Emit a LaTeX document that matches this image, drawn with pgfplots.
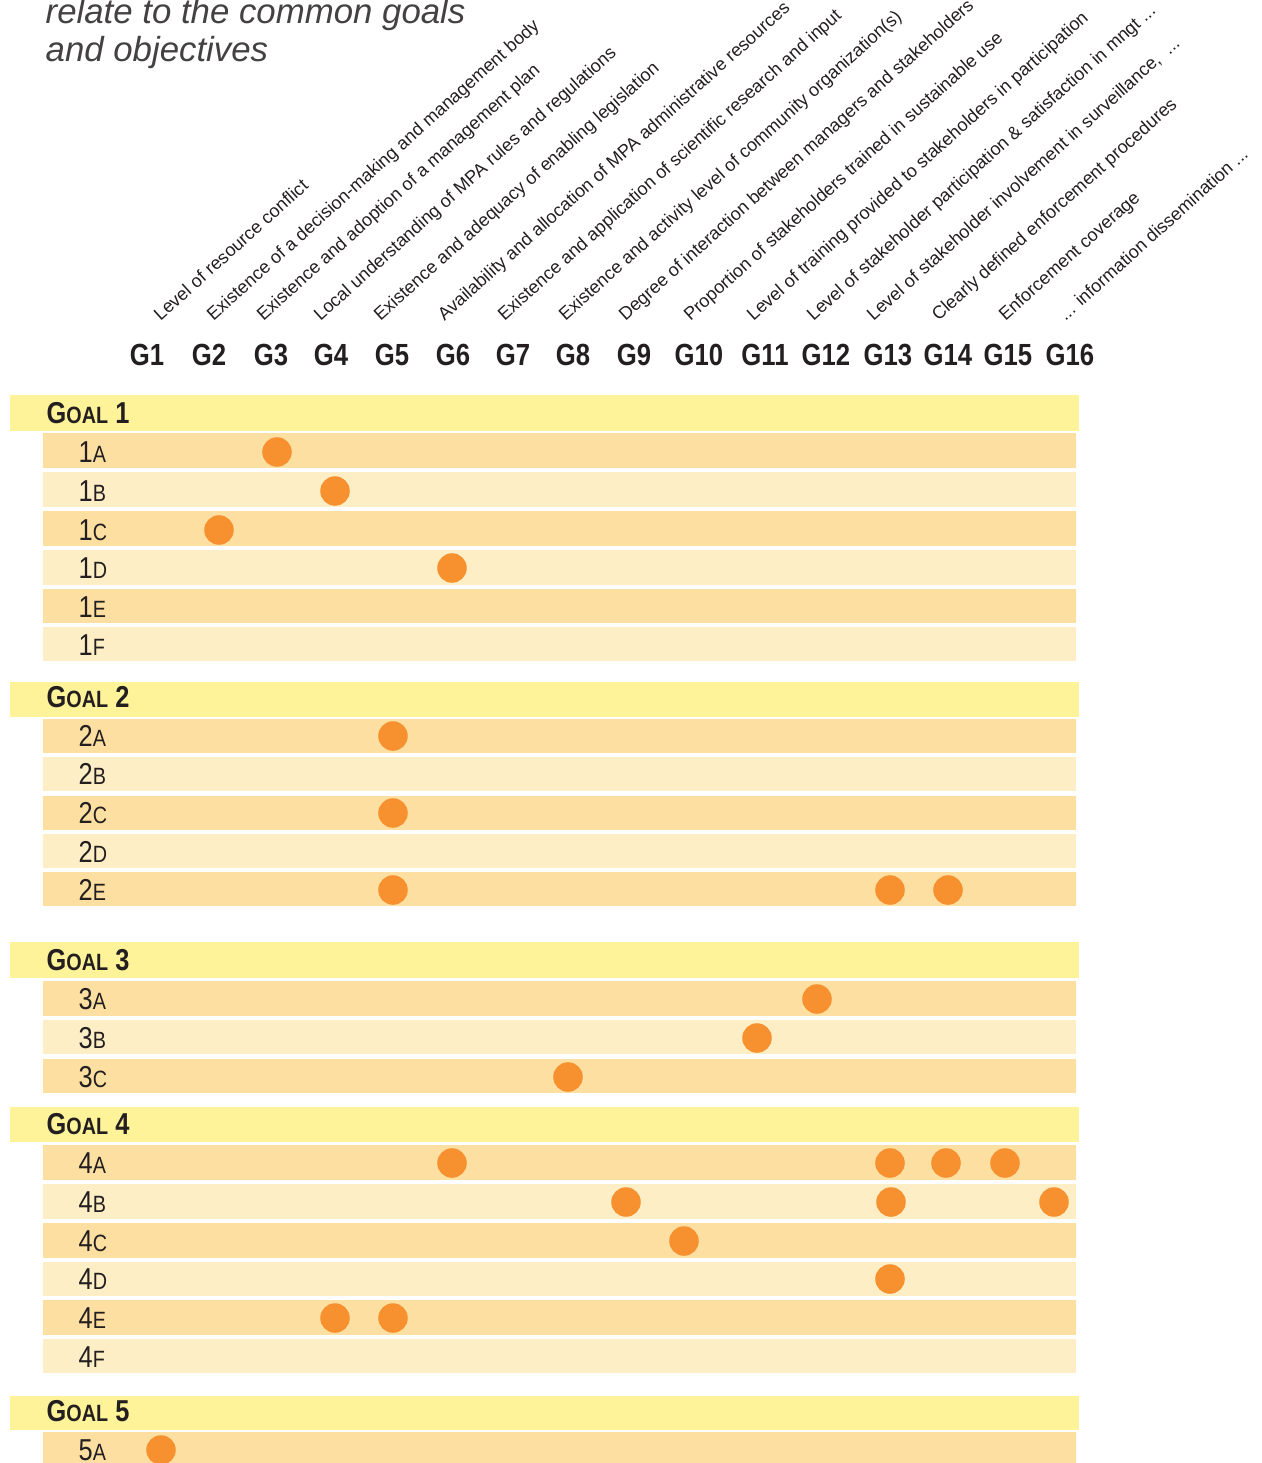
\documentclass[border=0pt]{standalone}
\usepackage{fontspec}
\setmainfont{Liberation Sans}
\newfontfamily\cond[FakeStretch=0.84]{Liberation Sans}
\usepackage{pgfplots}
\pgfplotsset{compat=1.18}

\definecolor{goalYellow}{HTML}{FFF399}
\definecolor{rowDark}{HTML}{FDDFA1}
\definecolor{rowLight}{HTML}{FDEEC6}
\definecolor{dotOrange}{HTML}{F7912F}
\definecolor{ink}{HTML}{231F20}

% bands: goal rows span 10..1079, indicator rows 43..1076 (pixel units)
\newcommand{\goalband}[2]{\addplot[fill=goalYellow, draw=none] coordinates {(10,#1) (1079,#1) (1079,#2) (10,#2)} -- cycle;}
\newcommand{\rowband}[3]{\addplot[fill=#1, draw=none] coordinates {(43,#2) (1076,#2) (1076,#3) (43,#3)} -- cycle;}
\newcommand{\goal}[2]{\node[anchor=west, inner sep=0, text=ink, font=\cond\bfseries] at (46,#1) {\fontsize{8.6}{10}\selectfont G\fontsize{6.7}{8}\selectfont OAL\fontsize{8.6}{10}\selectfont{} #2};}
\newcommand{\rowlab}[3]{\node[anchor=west, inner sep=0, text=ink, font=\cond] at (78,#1) {\fontsize{8.6}{10}\selectfont #2\fontsize{6.7}{8}\selectfont #3};}
\newcommand{\glab}[2]{\node[anchor=center, inner sep=0, text=ink, font=\cond\bfseries\fontsize{8.7}{10}\selectfont] at (#1,355) {#2};}
\newcommand{\rlab}[2]{\node[rotate=42, anchor=base west, inner sep=0, text=ink, font=\fontsize{5.15}{6}\selectfont] at (#1,322) {#2};}

\begin{document}
\begin{tikzpicture}
\begin{axis}[
    scale only axis, width=12.61cm, height=14.63cm,
    xmin=0, xmax=1261, ymin=0, ymax=1463, y dir=reverse,
    axis lines=none, ticks=none, clip=false
]
% Goal 1
\goalband{395}{431}
\rowband{rowDark}{433}{468}
\rowband{rowLight}{472}{507}
\rowband{rowDark}{511}{546}
\rowband{rowLight}{550}{585}
\rowband{rowDark}{589}{623}
\rowband{rowLight}{627}{661}
% Goal 2
\goalband{682}{717}
\rowband{rowDark}{719}{753}
\rowband{rowLight}{757}{791}
\rowband{rowDark}{796}{830}
\rowband{rowLight}{834}{868}
\rowband{rowDark}{872}{906}
% Goal 3
\goalband{942}{978}
\rowband{rowDark}{981}{1016}
\rowband{rowLight}{1020}{1054}
\rowband{rowDark}{1059}{1093}
% Goal 4
\goalband{1107}{1142}
\rowband{rowDark}{1145}{1180}
\rowband{rowLight}{1184}{1219}
\rowband{rowDark}{1223}{1258}
\rowband{rowLight}{1262}{1296}
\rowband{rowDark}{1300}{1335}
\rowband{rowLight}{1339}{1373}
% Goal 5
\goalband{1396}{1430}
\rowband{rowDark}{1432}{1480}

% indicator links (x = column, y = row)
\addplot[only marks, mark=*, mark size=4pt, color=dotOrange] coordinates {
    (277,452) (335,491) (219,530) (452,568)
    (393,736) (393,813) (393,890) (890,890) (948,890)
    (817,999) (757,1038) (568,1077)
    (452,1163) (890,1163) (946,1163) (1005,1163)
    (626,1202) (891,1202) (1054,1202)
    (684,1241) (890,1279) (335,1318) (393,1318)
    (161,1450)
};

% title
\node[anchor=base west, inner sep=0, text=ink!85, font=\itshape\fontsize{9.9}{11}\selectfont] at (45,23) {relate to the common goals};
\node[anchor=base west, inner sep=0, text=ink!85, font=\itshape\fontsize{9.9}{11}\selectfont] at (45,61) {and objectives};

% column headers
\glab{147}{G1} \glab{209}{G2} \glab{271}{G3} \glab{331}{G4}
\glab{392}{G5} \glab{453}{G6} \glab{513}{G7} \glab{573}{G8}
\glab{634}{G9} \glab{699}{G10} \glab{765}{G11} \glab{826}{G12}
\glab{888}{G13} \glab{948}{G14} \glab{1008}{G15} \glab{1070}{G16}

\rlab{160}{Level of resource conflict}
\rlab{213}{Existence of a decision-making and management body}
\rlab{263}{Existence and adoption of a management plan}
\rlab{320}{Local understanding of MPA rules and regulations}
\rlab{380}{Existence and adequacy of enabling legislation}
\rlab{444}{Availability and allocation of MPA administrative resources}
\rlab{504}{Existence and application of scientific research and input}
\rlab{565}{Existence and activity level of community organization(s)}
\rlab{625}{Degree of interaction between managers and stakeholders}
\rlab{690}{Proportion of stakeholders trained in sustainable use}
\rlab{753}{Level of training provided to stakeholders in participation}
\rlab{813}{Level of stakeholder participation \& satisfaction in mngt ...}
\rlab{873}{Level of stakeholder involvement in surveillance, \ ...}
\rlab{938}{Clearly defined enforcement procedures}
\rlab{1005}{Enforcement coverage}
\rlab{1065}{... information dissemination ...}

% row labels
\goal{413}{1}
\rowlab{452}{1}{A} \rowlab{491}{1}{B} \rowlab{530}{1}{C}
\rowlab{568}{1}{D} \rowlab{607}{1}{E} \rowlab{645}{1}{F}
\goal{697}{2}
\rowlab{736}{2}{A} \rowlab{774}{2}{B} \rowlab{813}{2}{C}
\rowlab{852}{2}{D} \rowlab{890}{2}{E}
\goal{960}{3}
\rowlab{999}{3}{A} \rowlab{1038}{3}{B} \rowlab{1077}{3}{C}
\goal{1124}{4}
\rowlab{1163}{4}{A} \rowlab{1202}{4}{B} \rowlab{1241}{4}{C}
\rowlab{1279}{4}{D} \rowlab{1318}{4}{E} \rowlab{1357}{4}{F}
\goal{1411}{5}
\rowlab{1450}{5}{A}
\end{axis}
\pgfresetboundingbox
\useasboundingbox (0,0) rectangle (12.61cm,14.63cm);
\end{tikzpicture}
\end{document}
